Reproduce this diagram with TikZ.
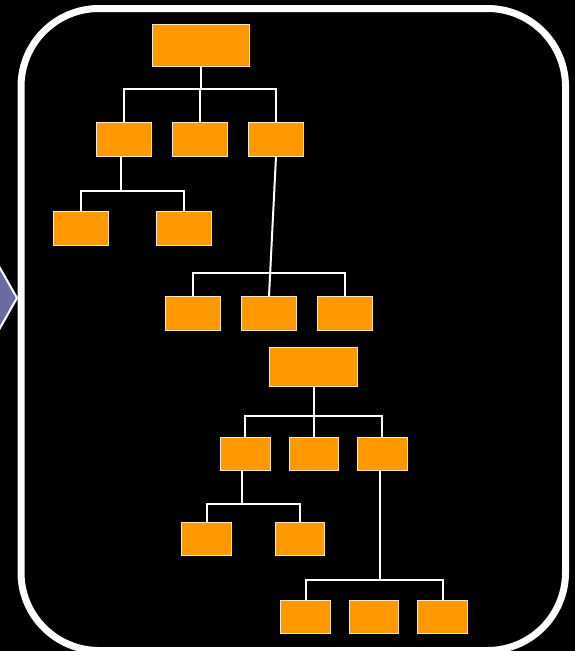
\documentclass[tikz,border=0pt]{standalone}
\usepackage{xcolor}
\usepackage{tikz}
\usetikzlibrary{positioning}

\definecolor{boxorange}{HTML}{FF9900}
\definecolor{boxedge}{HTML}{FFE6BF}
\definecolor{arrowpurple}{HTML}{6B6B9F}

\begin{document}
\begin{tikzpicture}[
    x=1pt, y=-1pt,
    box/.style={rectangle, draw=boxedge, fill=boxorange, line width=1pt, inner sep=0pt},
    small/.style={box, minimum width=55pt, minimum height=34pt},
    tiny/.style={box, minimum width=49.5pt, minimum height=33pt},
    wire/.style={draw=white, line width=2pt}]
    % background and frame
    \useasboundingbox (0,0) rectangle (575,651);
    \clip (0,0) rectangle (575,651);
    \fill[black] (0,0) rectangle (575,651);
    \draw[white, line width=2pt, fill=arrowpurple] (-30,215) -- (17,298) -- (-30,381) -- cycle;
    \draw[white, line width=7pt, rounded corners=78pt] (21,8.5) rectangle (565.5,650.5);
    % first chart
    \node[box, minimum width=97pt, minimum height=41.7pt] (rootA) at (200.5,45.2) {};
    \node[small] (a1) at (124,139) {};
    \node[small, right=20pt of a1] (a2) {};
    \node[small, right=20pt of a2] (a3) {};
    \node[small] (a11) at (81.2,228.5) {};
    \node[small, right=47pt of a11] (a12) {};
    \node[small] (a31) at (193,313.7) {};
    \node[small, right=20pt of a31] (a32) {};
    \node[small, right=20pt of a32] (a33) {};
    \coordinate (busA) at (0,89);
    \coordinate (busA1) at (0,190.7);
    \coordinate (busA3) at (0,273.3);
    \draw[wire] (rootA.south) -- (rootA.south |- busA);
    \draw[wire] (a1.north) |- (a2.north |- busA) -| (a3.north);
    \draw[wire] (a2.north) -- (a2.north |- busA);
    \draw[wire] ([xshift=-3pt]a1.south) -- ([xshift=-3pt]a1.south |- busA1);
    \draw[wire] (a11.north) |- ([xshift=-3pt]a1.south |- busA1) -| (a12.north);
    \draw[wire] (a3.south) -- (a32.north);
    \draw[wire] (a31.north) |- (a32.north |- busA3) -| (a33.north);
    % second chart
    \node[box, minimum width=88.4pt, minimum height=39pt] (rootB) at (313.5,366.5) {};
    \node[tiny] (b1) at (245.3,454.3) {};
    \node[tiny, right=18pt of b1] (b2) {};
    \node[tiny, right=18pt of b2] (b3) {};
    \node[tiny] (b11) at (206.5,538.7) {};
    \node[tiny, right=43pt of b11] (b12) {};
    \node[tiny] (b31) at (305.7,616.8) {};
    \node[tiny, right=18pt of b31] (b32) {};
    \node[tiny, right=18pt of b32] (b33) {};
    \coordinate (busB) at (0,415.7);
    \coordinate (busB1) at (0,503.7);
    \coordinate (busB3) at (0,580.3);
    \draw[wire] (rootB.south) -- (rootB.south |- busB);
    \draw[wire] (b1.north) |- (b2.north |- busB) -| (b3.north);
    \draw[wire] (b2.north) -- (b2.north |- busB);
    \draw[wire] ([xshift=-3pt]b1.south) -- ([xshift=-3pt]b1.south |- busB1);
    \draw[wire] (b11.north) |- ([xshift=-3pt]b1.south |- busB1) -| (b12.north);
    \draw[wire] ([xshift=-2pt]b3.south) -- ([xshift=-2pt]b3.south |- busB3);
    \draw[wire] (b31.north) |- ([xshift=-2pt]b3.south |- busB3) -| (b33.north);
\end{tikzpicture}
\end{document}
